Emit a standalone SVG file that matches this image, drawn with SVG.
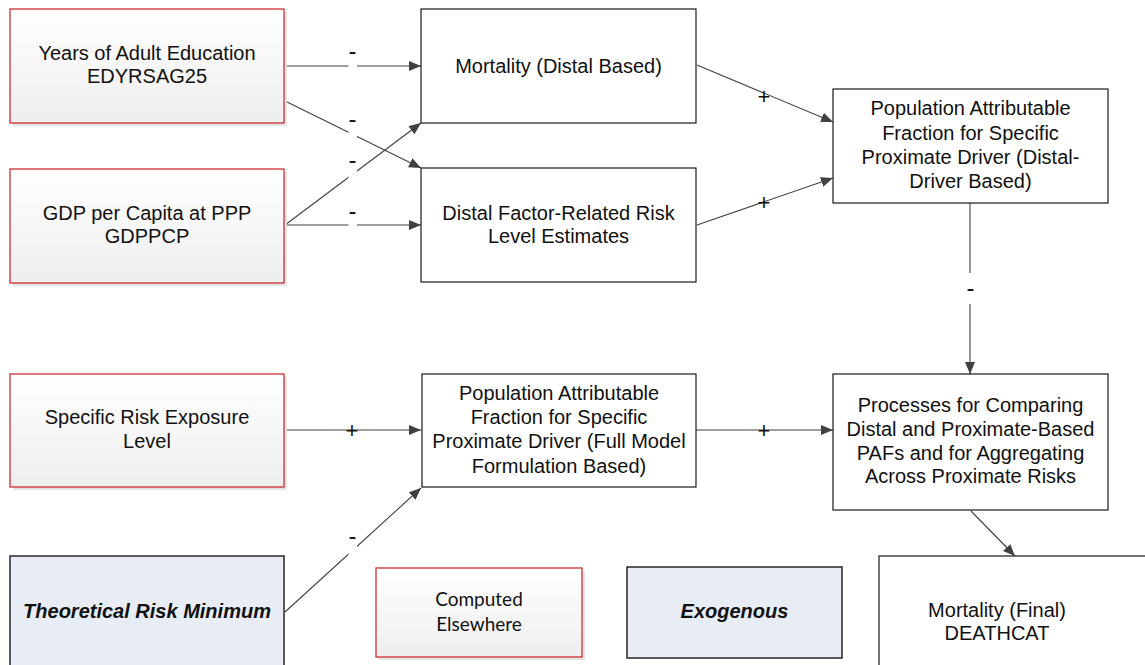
<svg xmlns="http://www.w3.org/2000/svg" width="1145" height="665" viewBox="0 0 1145 665">
  <defs>
    <linearGradient id="computedFill" x1="0" y1="0" x2="0" y2="1">
      <stop offset="0" stop-color="#ffffff"/>
      <stop offset="1" stop-color="#eeeeee"/>
    </linearGradient>
    <marker id="arrow" markerUnits="userSpaceOnUse" markerWidth="14" markerHeight="12" refX="12" refY="5" orient="auto">
      <path d="M0,0 L12,5 L0,10 Z" fill="#404040"/>
    </marker>
    <style>
      .box { fill: #ffffff; stroke: #1a1a1a; stroke-width: 1.2; }
      .computed { fill: url(#computedFill); stroke: #cc2f33; stroke-width: 1.3; }
      .shadow { fill: #e4e4e4; }
      .exo { fill: #e8edf5; stroke: #262626; stroke-width: 1.5; }
      .t { font-family: "Liberation Sans", Arial, sans-serif; font-size: 20px; fill: #111111; text-anchor: middle; }
      .bi { font-weight: bold; font-style: italic; }
      .cal { font-family: Lato, "Open Sans", sans-serif; font-size: 19px; fill: #111111; text-anchor: middle; }
      .link { stroke: #404040; stroke-width: 1.1; fill: none; marker-end: url(#arrow); }
      .gap { fill: #ffffff; }
      .minus { font-family: "Liberation Sans", Arial, sans-serif; font-size: 24px; fill: #111111; text-anchor: middle; }
      .plus { font-family: "Liberation Sans", Arial, sans-serif; font-size: 22px; fill: #111111; text-anchor: middle; }
    </style>
  </defs>

  <rect width="1145" height="665" fill="#ffffff"/>

  <!-- connectors -->
  <g id="connectors">
    <line class="link" x1="285" y1="66" x2="421" y2="66"/>
    <line class="link" x1="285" y1="101" x2="421" y2="168"/>
    <line class="link" x1="285" y1="225" x2="421" y2="123"/>
    <line class="link" x1="285" y1="225" x2="421" y2="225"/>
    <line class="link" x1="697" y1="65" x2="833" y2="122"/>
    <line class="link" x1="697" y1="225" x2="833" y2="178"/>
    <line class="link" x1="970" y1="203" x2="970" y2="374"/>
    <line class="link" x1="285" y1="430" x2="421" y2="430"/>
    <line class="link" x1="285" y1="612" x2="421" y2="488"/>
    <line class="link" x1="696" y1="430" x2="833" y2="430"/>
    <line class="link" x1="971" y1="511" x2="1015" y2="556"/>

    <!-- breaks in the lines under the polarity signs -->
    <rect class="gap" x="348.5" y="60" width="8.5" height="12"/>
    <rect class="gap" x="348.5" y="127" width="8.5" height="14"/>
    <rect class="gap" x="348.5" y="167" width="8.5" height="16"/>
    <rect class="gap" x="348.5" y="219" width="8.5" height="12"/>
    <rect class="gap" x="348.5" y="543" width="8.5" height="16"/>
    <rect class="gap" x="964" y="273" width="12" height="31"/>

    <text class="minus" x="352.5" y="59">-</text>
    <text class="minus" x="352.5" y="126.5">-</text>
    <text class="minus" x="352.5" y="167.5">-</text>
    <text class="minus" x="352.5" y="218.5">-</text>
    <text class="minus" x="352.5" y="543.5">-</text>
    <text class="minus" x="970.5" y="295.5">-</text>

    <text class="plus" x="764" y="103.5">+</text>
    <text class="plus" x="764" y="209.5">+</text>
    <text class="plus" x="352" y="437.5">+</text>
    <text class="plus" x="764" y="437.5">+</text>
  </g>

  <!-- computed-elsewhere inputs -->
  <g id="years-education">
    <rect class="shadow" x="13" y="12" width="274" height="114"/>
    <rect class="computed" x="10" y="9" width="274" height="114"/>
    <text class="t" x="147" y="60">Years of Adult Education</text>
    <text class="t" x="147" y="83">EDYRSAG25</text>
  </g>

  <g id="gdp-per-capita">
    <rect class="shadow" x="13" y="172" width="274" height="114"/>
    <rect class="computed" x="10" y="169" width="274" height="114"/>
    <text class="t" x="147" y="220">GDP per Capita at PPP</text>
    <text class="t" x="147" y="243">GDPPCP</text>
  </g>

  <g id="specific-risk-exposure">
    <rect class="shadow" x="13" y="377" width="274" height="113"/>
    <rect class="computed" x="10" y="374" width="274" height="113"/>
    <text class="t" x="147" y="424">Specific Risk Exposure</text>
    <text class="t" x="147" y="448">Level</text>
  </g>

  <!-- exogenous input -->
  <g id="theoretical-risk-minimum">
    <rect class="exo" x="10" y="556" width="274" height="120"/>
    <text class="t bi" x="147" y="618">Theoretical Risk Minimum</text>
  </g>

  <!-- model nodes -->
  <g id="mortality-distal">
    <rect class="box" x="421" y="9" width="275" height="114"/>
    <text class="t" x="558.5" y="73">Mortality (Distal Based)</text>
  </g>

  <g id="distal-risk-level">
    <rect class="box" x="421" y="168" width="275" height="114"/>
    <text class="t" x="558.5" y="220">Distal Factor-Related Risk</text>
    <text class="t" x="558.5" y="243">Level Estimates</text>
  </g>

  <g id="paf-distal">
    <rect class="box" x="833" y="89" width="275" height="114"/>
    <text class="t" x="970.5" y="115">Population Attributable</text>
    <text class="t" x="970.5" y="140">Fraction for Specific</text>
    <text class="t" x="970.5" y="164">Proximate Driver (Distal-</text>
    <text class="t" x="970.5" y="188">Driver Based)</text>
  </g>

  <g id="paf-full-model">
    <rect class="box" x="422" y="374" width="274" height="113"/>
    <text class="t" x="559" y="400">Population Attributable</text>
    <text class="t" x="559" y="424">Fraction for Specific</text>
    <text class="t" x="559" y="448">Proximate Driver (Full Model</text>
    <text class="t" x="559" y="473">Formulation Based)</text>
  </g>

  <g id="paf-processes">
    <rect class="box" x="833" y="374" width="275" height="136"/>
    <text class="t" x="970.5" y="412">Processes for Comparing</text>
    <text class="t" x="970.5" y="436">Distal and Proximate-Based</text>
    <text class="t" x="970.5" y="460">PAFs and for Aggregating</text>
    <text class="t" x="970.5" y="483">Across Proximate Risks</text>
  </g>

  <g id="mortality-final">
    <rect class="box" x="879" y="556" width="280" height="120"/>
    <text class="t" x="997" y="617">Mortality (Final)</text>
    <text class="t" x="997" y="640">DEATHCAT</text>
  </g>

  <!-- legend -->
  <g id="legend-computed">
    <rect class="shadow" x="379" y="571" width="206" height="89"/>
    <rect class="computed" x="376" y="568" width="206" height="89"/>
    <text class="cal" x="479" y="606">Computed</text>
    <text class="cal" x="479" y="631">Elsewhere</text>
  </g>

  <g id="legend-exogenous">
    <rect class="exo" x="627" y="567" width="215" height="91"/>
    <text class="t bi" x="734.5" y="618">Exogenous</text>
  </g>
</svg>
